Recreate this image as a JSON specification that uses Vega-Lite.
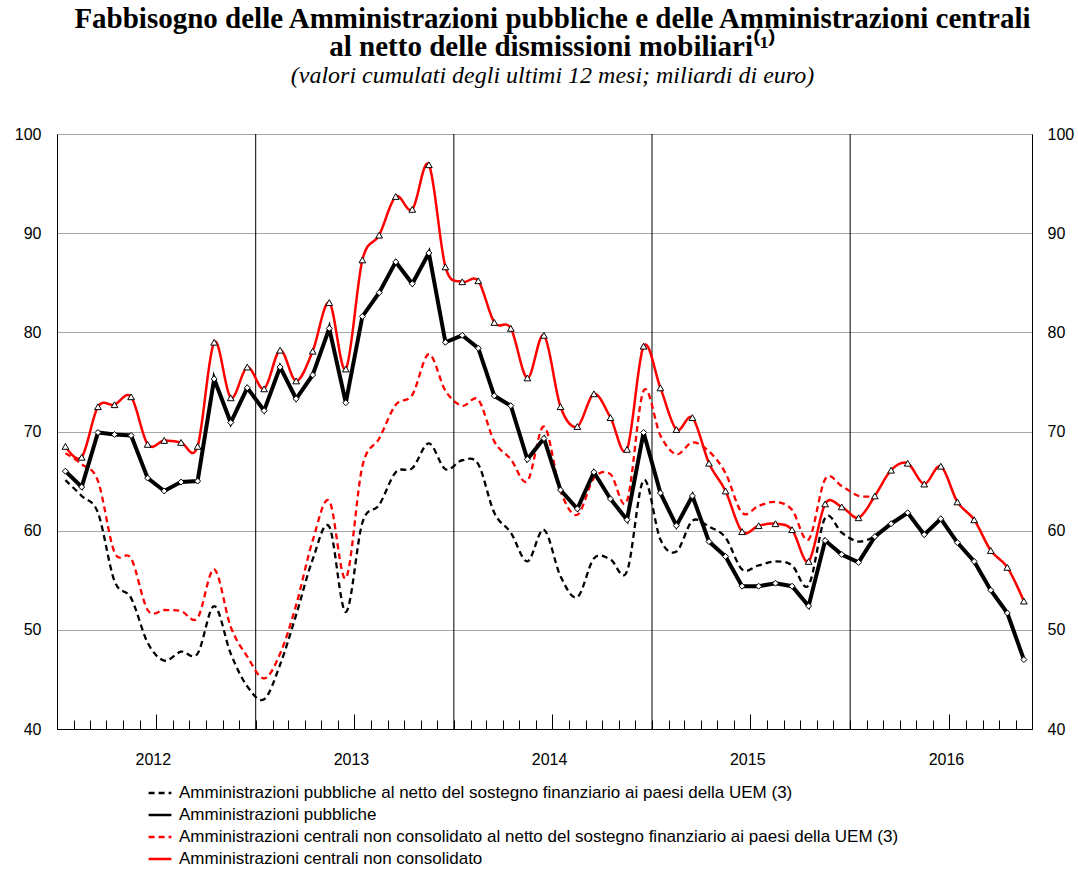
{
  "$schema": "https://vega.github.io/schema/vega-lite/v6.json",
  "width": 975,
  "height": 595,
  "autosize": {"type": "none"},
  "padding": {"left": 57, "top": 134, "right": 46, "bottom": 142},
  "background": "white",
  "title": {
    "text": ["Fabbisogno delle Amministrazioni pubbliche e delle Amministrazioni centrali", "al netto delle dismissioni mobiliari⁽¹⁾"],
    "subtitle": "(valori cumulati degli ultimi 12 mesi; miliardi di euro)",
    "font": "Liberation Serif",
    "fontSize": 29,
    "fontWeight": "bold",
    "lineHeight": 28,
    "color": "black",
    "subtitleFont": "Liberation Serif",
    "subtitleFontStyle": "italic",
    "subtitleFontSize": 24,
    "subtitleColor": "black",
    "subtitlePadding": 2,
    "anchor": "middle",
    "frame": "group",
    "offset": 38,
    "dx": 8
  },
  "datasets": {
    "serie": [
      {"code": "pn", "nome": "Amministrazioni pubbliche al netto del sostegno finanziario ai paesi della UEM (3)"},
      {"code": "p", "nome": "Amministrazioni pubbliche"},
      {"code": "cn", "nome": "Amministrazioni centrali non consolidato al netto del sostegno finanziario ai paesi della UEM (3)"},
      {"code": "c", "nome": "Amministrazioni centrali non consolidato"}
    ],
    "anni": [
      {"inizio": "2013-01-01"},
      {"inizio": "2014-01-01"},
      {"inizio": "2015-01-01"},
      {"inizio": "2016-01-01"}
    ],
    "mesi": [
      {"mese": "2012-01", "pn": 65.1, "p": 66.0, "cn": 67.8, "c": 68.5},
      {"mese": "2012-02", "pn": 63.5, "p": 64.4, "cn": 66.7, "c": 67.4},
      {"mese": "2012-03", "pn": 61.8, "p": 69.9, "cn": 65.0, "c": 72.5},
      {"mese": "2012-04", "pn": 54.9, "p": 69.7, "cn": 57.8, "c": 72.7},
      {"mese": "2012-05", "pn": 53.2, "p": 69.6, "cn": 57.2, "c": 73.5},
      {"mese": "2012-06", "pn": 48.7, "p": 65.3, "cn": 52.0, "c": 68.7},
      {"mese": "2012-07", "pn": 46.9, "p": 64.0, "cn": 52.0, "c": 69.1},
      {"mese": "2012-08", "pn": 47.8, "p": 64.9, "cn": 51.9, "c": 68.9},
      {"mese": "2012-09", "pn": 47.6, "p": 65.0, "cn": 51.2, "c": 68.5},
      {"mese": "2012-10", "pn": 52.4, "p": 75.3, "cn": 56.1, "c": 79.0},
      {"mese": "2012-11", "pn": 47.6, "p": 70.9, "cn": 50.3, "c": 73.4},
      {"mese": "2012-12", "pn": 44.3, "p": 74.4, "cn": 47.3, "c": 76.5},
      {"mese": "2013-01", "pn": 43.0, "p": 72.1, "cn": 45.1, "c": 74.3},
      {"mese": "2013-02", "pn": 46.5, "p": 76.5, "cn": 47.6, "c": 78.2},
      {"mese": "2013-03", "pn": 51.5, "p": 73.3, "cn": 52.5, "c": 75.1},
      {"mese": "2013-04", "pn": 57.1, "p": 75.7, "cn": 59.0, "c": 78.1},
      {"mese": "2013-05", "pn": 60.4, "p": 80.4, "cn": 63.0, "c": 83.0},
      {"mese": "2013-06", "pn": 51.8, "p": 72.9, "cn": 55.2, "c": 76.3},
      {"mese": "2013-07", "pn": 60.8, "p": 81.6, "cn": 66.5, "c": 87.3},
      {"mese": "2013-08", "pn": 62.6, "p": 84.0, "cn": 69.3, "c": 89.8},
      {"mese": "2013-09", "pn": 65.9, "p": 87.1, "cn": 72.7, "c": 93.7},
      {"mese": "2013-10", "pn": 66.3, "p": 84.9, "cn": 73.7, "c": 92.4},
      {"mese": "2013-11", "pn": 68.8, "p": 88.0, "cn": 77.8, "c": 96.9},
      {"mese": "2013-12", "pn": 66.2, "p": 79.0, "cn": 74.1, "c": 86.6},
      {"mese": "2014-01", "pn": 67.1, "p": 79.7, "cn": 72.6, "c": 85.1},
      {"mese": "2014-02", "pn": 66.7, "p": 78.4, "cn": 73.2, "c": 85.2},
      {"mese": "2014-03", "pn": 61.8, "p": 73.6, "cn": 69.0, "c": 81.0},
      {"mese": "2014-04", "pn": 59.8, "p": 72.6, "cn": 67.2, "c": 80.4},
      {"mese": "2014-05", "pn": 56.9, "p": 67.2, "cn": 65.0, "c": 75.4},
      {"mese": "2014-06", "pn": 60.1, "p": 69.3, "cn": 70.5, "c": 79.7},
      {"mese": "2014-07", "pn": 55.4, "p": 64.1, "cn": 64.0, "c": 72.5},
      {"mese": "2014-08", "pn": 53.3, "p": 62.2, "cn": 61.6, "c": 70.5},
      {"mese": "2014-09", "pn": 57.2, "p": 65.9, "cn": 65.3, "c": 73.8},
      {"mese": "2014-10", "pn": 57.1, "p": 63.2, "cn": 65.7, "c": 71.4},
      {"mese": "2014-11", "pn": 55.9, "p": 61.1, "cn": 63.0, "c": 68.2},
      {"mese": "2014-12", "pn": 65.1, "p": 69.9, "cn": 74.1, "c": 78.6},
      {"mese": "2015-01", "pn": 59.1, "p": 63.8, "cn": 69.6, "c": 74.4},
      {"mese": "2015-02", "pn": 57.9, "p": 60.5, "cn": 67.7, "c": 70.2},
      {"mese": "2015-03", "pn": 61.0, "p": 63.5, "cn": 68.9, "c": 71.4},
      {"mese": "2015-04", "pn": 60.4, "p": 58.9, "cn": 68.0, "c": 66.8},
      {"mese": "2015-05", "pn": 59.3, "p": 57.4, "cn": 65.8, "c": 64.0},
      {"mese": "2015-06", "pn": 56.1, "p": 54.4, "cn": 61.8, "c": 59.9},
      {"mese": "2015-07", "pn": 56.5, "p": 54.4, "cn": 62.5, "c": 60.5},
      {"mese": "2015-08", "pn": 56.9, "p": 54.7, "cn": 62.9, "c": 60.7},
      {"mese": "2015-09", "pn": 56.5, "p": 54.4, "cn": 62.1, "c": 60.1},
      {"mese": "2015-10", "pn": 54.5, "p": 52.4, "cn": 59.1, "c": 56.9},
      {"mese": "2015-11", "pn": 61.3, "p": 59.0, "cn": 65.2, "c": 62.7},
      {"mese": "2015-12", "pn": 59.8, "p": 57.6, "cn": 64.5, "c": 62.4},
      {"mese": "2016-01", "pn": 58.9, "p": 56.8, "cn": 63.5, "c": 61.3},
      {"mese": "2016-02", "pn": 59.4, "p": 59.4, "cn": 63.5, "c": 63.5},
      {"mese": "2016-03", "p": 60.7, "c": 66.1},
      {"mese": "2016-04", "p": 61.8, "c": 66.8},
      {"mese": "2016-05", "p": 59.6, "c": 64.7},
      {"mese": "2016-06", "p": 61.2, "c": 66.5},
      {"mese": "2016-07", "p": 58.8, "c": 62.9},
      {"mese": "2016-08", "p": 56.9, "c": 61.1},
      {"mese": "2016-09", "p": 54.0, "c": 58.0},
      {"mese": "2016-10", "p": 51.7, "c": 56.3},
      {"mese": "2016-11", "p": 47.0, "c": 52.9}
    ]
  },
  "config": {
    "view": {"stroke": "#666666", "strokeWidth": 1},
    "axis": {"labelFont": "Liberation Sans", "labelFontSize": 16, "labelColor": "black", "title": null},
    "legend": {
      "orient": "none",
      "legendX": 90,
      "legendY": 646,
      "direction": "vertical",
      "title": null,
      "symbolType": "stroke",
      "symbolSize": 520,
      "symbolStrokeWidth": 2.5,
      "labelFont": "Liberation Sans",
      "labelFontSize": 17,
      "labelColor": "black",
      "labelLimit": 1000,
      "labelOffset": 6,
      "rowPadding": 1
    }
  },
  "resolve": {
    "scale": {"x": "shared", "y": "shared"},
    "axis": {"x": "independent", "y": "independent"}
  },
  "layer": [
    {
      "data": {"name": "anni"},
      "mark": {"type": "rule", "color": "black", "strokeWidth": 1},
      "encoding": {
        "x": {
          "field": "inizio",
          "type": "temporal",
          "scale": {"type": "utc", "domain": [{"year": 2012, "month": 1, "date": 1, "utc": true}, {"year": 2016, "month": 12, "date": 1, "utc": true}]},
          "axis": {
            "orient": "bottom",
            "tickCount": {"interval": "month", "step": 1},
            "labels": false,
            "tickSize": -9,
            "tickColor": "black",
            "tickWidth": 1,
            "domain": true,
            "domainColor": "black",
            "grid": false,
            "title": null
          }
        }
      }
    },
    {
      "data": {"name": "mesi"},
      "transform": [
        {"fold": ["pn", "cn"], "as": ["code", "valore"]},
        {"lookup": "code", "from": {"data": {"name": "serie"}, "key": "code", "fields": ["nome"]}}
      ],
      "mark": {"type": "line", "interpolate": "cardinal", "strokeWidth": 2.3},
      "encoding": {
        "x": {
          "field": "mese",
          "type": "temporal",
          "timeUnit": "utcyearmonth",
          "bandPosition": 0.5,
          "axis": {
            "orient": "bottom",
            "values": [
              {"year": 2012, "month": 7, "date": 1, "utc": true},
              {"year": 2013, "month": 7, "date": 1, "utc": true},
              {"year": 2014, "month": 7, "date": 1, "utc": true},
              {"year": 2015, "month": 7, "date": 1, "utc": true},
              {"year": 2016, "month": 7, "date": 1, "utc": true}
            ],
            "format": "%Y",
            "tickSize": -15,
            "tickColor": "black",
            "tickWidth": 1,
            "labelPadding": 37,
            "labelOffset": -3,
            "labelAngle": 0,
            "domain": false,
            "grid": false,
            "title": null
          }
        },
        "y": {
          "field": "valore",
          "type": "quantitative",
          "scale": {"domain": [40, 100], "nice": false, "zero": false},
          "axis": {
            "orient": "left",
            "values": [40, 50, 60, 70, 80, 90, 100],
            "grid": true,
            "gridColor": "#a6a6a6",
            "gridWidth": 1,
            "ticks": false,
            "domain": true,
            "domainColor": "black",
            "labelPadding": 16,
            "title": null
          }
        },
        "color": {
          "field": "nome",
          "type": "nominal",
          "scale": {
            "domain": [
              "Amministrazioni pubbliche al netto del sostegno finanziario ai paesi della UEM (3)",
              "Amministrazioni pubbliche",
              "Amministrazioni centrali non consolidato al netto del sostegno finanziario ai paesi della UEM (3)",
              "Amministrazioni centrali non consolidato"
            ],
            "range": ["black", "black", "red", "red"]
          }
        },
        "strokeDash": {
          "field": "nome",
          "type": "nominal",
          "scale": {
            "domain": [
              "Amministrazioni pubbliche al netto del sostegno finanziario ai paesi della UEM (3)",
              "Amministrazioni pubbliche",
              "Amministrazioni centrali non consolidato al netto del sostegno finanziario ai paesi della UEM (3)",
              "Amministrazioni centrali non consolidato"
            ],
            "range": [[6, 4], [1, 0], [6, 4], [1, 0]]
          }
        }
      }
    },
    {
      "data": {"name": "mesi"},
      "mark": {"type": "line", "interpolate": "cardinal", "color": "red", "strokeWidth": 2.5},
      "encoding": {
        "x": {"field": "mese", "type": "temporal", "timeUnit": "utcyearmonth", "bandPosition": 0.5, "axis": null},
        "y": {
          "field": "c",
          "type": "quantitative",
          "axis": {
            "orient": "right",
            "values": [40, 50, 60, 70, 80, 90, 100],
            "grid": false,
            "ticks": false,
            "domain": true,
            "domainColor": "black",
            "labelPadding": 15,
            "title": null
          }
        }
      }
    },
    {
      "data": {"name": "mesi"},
      "mark": {"type": "line", "interpolate": "linear", "color": "black", "strokeWidth": 4},
      "encoding": {
        "x": {"field": "mese", "type": "temporal", "timeUnit": "utcyearmonth", "bandPosition": 0.5, "axis": null},
        "y": {"field": "p", "type": "quantitative", "axis": null}
      }
    },
    {
      "data": {"name": "mesi"},
      "mark": {"type": "point", "shape": "diamond", "filled": true, "fill": "white", "stroke": "black", "strokeWidth": 1, "size": 36, "opacity": 1},
      "encoding": {
        "x": {"field": "mese", "type": "temporal", "timeUnit": "utcyearmonth", "bandPosition": 0.5, "axis": null},
        "y": {"field": "p", "type": "quantitative", "axis": null}
      }
    },
    {
      "data": {"name": "mesi"},
      "mark": {"type": "point", "shape": "triangle-up", "filled": true, "fill": "white", "stroke": "black", "strokeWidth": 1, "size": 45, "opacity": 1},
      "encoding": {
        "x": {"field": "mese", "type": "temporal", "timeUnit": "utcyearmonth", "bandPosition": 0.5, "axis": null},
        "y": {"field": "c", "type": "quantitative", "axis": null}
      }
    }
  ]
}
